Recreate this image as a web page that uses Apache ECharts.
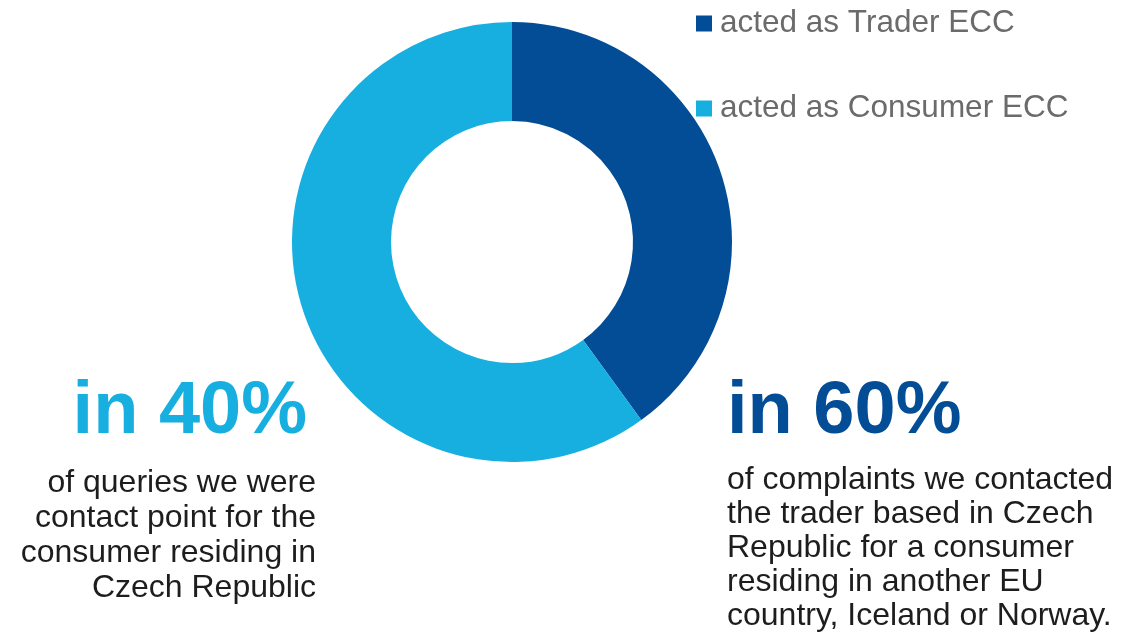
<!DOCTYPE html>
<html>
<head>
<meta charset="utf-8">
<script src="https://cdn.jsdelivr.net/npm/echarts@6/dist/echarts.min.js"></script>
<style>html,body{margin:0;padding:0;background:#fff}#c{width:1143px;height:633px}</style>
</head>
<body>
<div id="c"></div>
<script>
const categories = ['acted as Trader ECC', 'acted as Consumer ECC'];
const values = [40, 60];
const colors = ['#024d96', '#17afe0'];
const leftHeadline = 'in 40%';
const leftText = ['of queries we were', 'contact point for the', 'consumer residing in', 'Czech Republic'];
const rightHeadline = 'in 60%';
const rightText = ['of complaints we contacted', 'the trader based in Czech', 'Republic for a consumer', 'residing in another EU', 'country, Iceland or Norway.'];

const font = 'Liberation Sans';
const chart = echarts.init(document.getElementById('c'));
chart.setOption({
  animation: false,
  color: colors,
  legend: {
    orient: 'vertical',
    left: 691,
    top: 2,
    icon: 'rect',
    itemWidth: 16,
    itemHeight: 16,
    itemGap: 52,
    selectedMode: false,
    textStyle: { fontFamily: font, fontSize: 31.5, lineHeight: 33, color: '#6b6b6b', padding: [0, 0, 0, 3] },
    data: categories
  },
  series: [{
    type: 'pie',
    center: [512, 242],
    radius: [121, 220],
    startAngle: 90,
    clockwise: true,
    label: { show: false },
    labelLine: { show: false },
    emphasis: { disabled: true },
    data: categories.map((c, i) => ({ name: c, value: values[i] }))
  }],
  graphic: [
    { type: 'text', x: 307, y: 413, style: { text: leftHeadline, fontFamily: font, fontWeight: 'bold', fontSize: 74, fill: colors[1], align: 'right', verticalAlign: 'middle' } },
    { type: 'text', x: 316, y: 466, style: { text: leftText.join('\n'), fontFamily: font, fontSize: 32, lineHeight: 35, fill: '#1d1d1d', align: 'right', verticalAlign: 'top' } },
    { type: 'text', x: 727, y: 463, style: { text: rightText.join('\n'), fontFamily: font, fontSize: 32, lineHeight: 34, fill: '#1d1d1d', align: 'left', verticalAlign: 'top' } },
    { type: 'text', x: 727, y: 413, style: { text: rightHeadline, fontFamily: font, fontWeight: 'bold', fontSize: 74, fill: colors[0], align: 'left', verticalAlign: 'middle' } }
  ]
});
</script>
</body>
</html>
